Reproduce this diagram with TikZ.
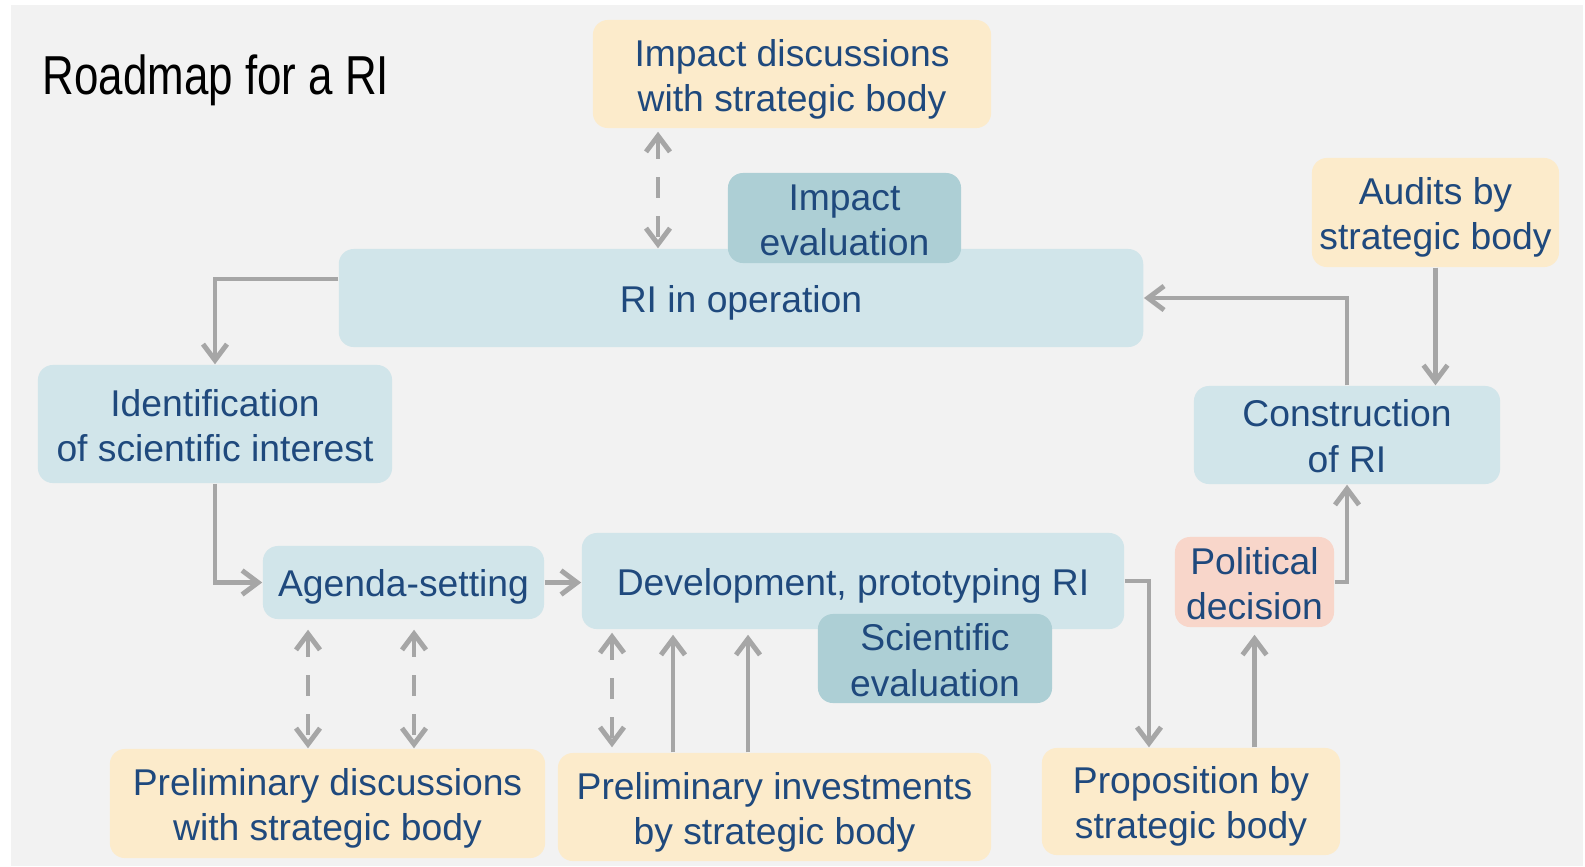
\documentclass[tikz,border=0pt]{standalone}
\usepackage{fontspec}
\setmainfont{Liberation Sans}
\newfontfamily\titlefont[FakeStretch=0.80]{Liberation Sans}
\usepackage{tikz}
\usetikzlibrary{positioning, arrows.meta}

\definecolor{bggray}{HTML}{F2F2F2}
\definecolor{riblue}{HTML}{D1E5EA}
\definecolor{evalteal}{HTML}{ADCFD5}
\definecolor{bodyyellow}{HTML}{FCEBCB}
\definecolor{politpink}{HTML}{F8D6CA}
\definecolor{textblue}{HTML}{1F497D}
\definecolor{arrowgray}{HTML}{A6A6A6}

\tikzset{
box/.style={
  rectangle,
  rounded corners=0.15cm,
  align=center,
  inner sep=0pt,
  text=textblue,
  font=\fontsize{10.6}{12.9}\selectfont,
 },
lowtext/.style={% moves the text a little down in its box
  execute at begin node={\rule{0pt}{#1}},
 },
lowtext/.default=23.5pt,
}

\begin{document}
\begin{tikzpicture}[x=0.01cm, y=-0.01cm,
    % Styles
    stage/.style={% For the stages of the roadmap
        box,
        fill=riblue,
        },
    evaluation/.style={% For the evaluations
        box,
        fill=evalteal,
        lowtext=21.5pt,
        },
    body/.style={% For the strategic body
        box,
        fill=bodyyellow,
        lowtext,
        },
    decision/.style={% For the political decision
        box,
        fill=politpink,
        lowtext=21.7pt,
        },
    ArrowG/.style={% Solid arrows
        draw=arrowgray,
        line width=1.4pt,
        -{Straight Barb[length=1.6mm, width=2.4mm]},
        },
    ArrowD/.style={% Dashed arrows in both directions
        draw=arrowgray,
        line width=1.4pt,
        dash pattern=on 0.21cm off 0.18cm,
        {Straight Barb[length=1.6mm, width=2.4mm]}-{Straight Barb[length=1.6mm, width=2.4mm]},
        },
    ]

    % Background
    \useasboundingbox (0,0) rectangle (1585,866);
    \fill[bggray] (11,5) rectangle (1583,866);

    % Title
    \node[anchor=west, inner sep=0pt, font=\titlefont\fontsize{15.6}{18}\selectfont] (title) at (42,80) {Roadmap for a RI};

    % Draw the stages
    \node [stage, lowtext=10.6pt, minimum width=8.04cm, minimum height=0.98cm] (riop) at (741,298) {RI in operation};
    \node [stage, lowtext=21.5pt, minimum width=3.54cm, minimum height=1.18cm] (ident) at (215,424) {Identification\\of scientific interest};
    \node [stage, lowtext=10pt, minimum width=2.81cm, minimum height=0.73cm] (agenda) at (403.5,582.5) {Agenda-setting};
    \node [stage, lowtext=10.6pt, minimum width=5.42cm, minimum height=0.96cm] (devel) at (853,581) {Development, prototyping RI};
    \node [stage, lowtext=21.3pt, minimum width=3.06cm, minimum height=0.98cm] (constr) at (1347,435) {Construction\\of RI};

    % Draw the evaluations
    \node [evaluation, minimum width=2.33cm, minimum height=0.90cm] (impeval) at (844.5,218) {Impact\\evaluation};
    \node [evaluation, minimum width=2.34cm, minimum height=0.89cm] (scieval) at (935,658.5) {Scientific\\evaluation};

    % Draw the strategic body
    \node [body, lowtext=23.8pt, minimum width=3.98cm, minimum height=1.08cm] (impdisc) at (792,74) {Impact discussions\\with strategic body};
    \node [body, lowtext=23pt, minimum width=2.47cm, minimum height=1.09cm] (audits) at (1435.5,212.5) {Audits by\\strategic body};
    \node [body, minimum width=4.35cm, minimum height=1.09cm] (prelimdisc) at (327.5,803.5) {Preliminary discussions\\with strategic body};
    \node [body, minimum width=4.33cm, minimum height=1.08cm] (preliminv) at (774.5,807) {Preliminary investments\\by strategic body};
    \node [body, minimum width=2.98cm, minimum height=1.07cm] (propos) at (1191,801.5) {Proposition by\\strategic body};

    % Draw the decision
    \node [decision, minimum width=1.59cm, minimum height=0.90cm] (polit) at (1254.5,582) {Political\\decision};

    % Columns of the vertical arrows
    \coordinate (c1) at (658,0);
    \coordinate (c2) at (308,0);
    \coordinate (c3) at (414,0);
    \coordinate (c4) at (612,0);
    \coordinate (c5) at (673,0);
    \coordinate (c6) at (748,0);
    \coordinate (c7) at (1149,0);

    % Draw Arrows
    % main cycle
    \draw [ArrowG] ([yshift=0.19cm]riop.west) -| (ident.north);
    \draw [ArrowG] (ident.south) |- (agenda.west);
    \draw [ArrowG] (agenda.east) -- (agenda.east -| devel.west);
    \draw [ArrowG] (devel.east) -| (propos.north -| c7);
    \draw [ArrowG, shorten >=0.07cm] (polit.south |- propos.north) -- (polit.south);
    \draw [ArrowG] (polit.east) -| (constr.south);
    \draw [ArrowG] (constr.north) |- (riop.east);

    % strategic body
    \draw [ArrowD, shorten <=0.03cm] (impdisc.south -| c1) -- (riop.north -| c1);
    \draw [ArrowG] (audits.south) -- (constr.north -| audits.south);
    \draw [ArrowD, shorten <=0.1cm] (agenda.south -| c2) -- (prelimdisc.north -| c2);
    \draw [ArrowD, shorten <=0.1cm] (agenda.south -| c3) -- (prelimdisc.north -| c3);
    \draw [ArrowD, shorten <=0.03cm, shorten >=0.05cm] (devel.south -| c4) -- (preliminv.north -| c4);
    \draw [ArrowG, shorten >=0.05cm] (preliminv.north -| c5) -- (devel.south -| c5);
    \draw [ArrowG, shorten >=0.05cm] (preliminv.north -| c6) -- (devel.south -| c6);

\end{tikzpicture}
\end{document}
